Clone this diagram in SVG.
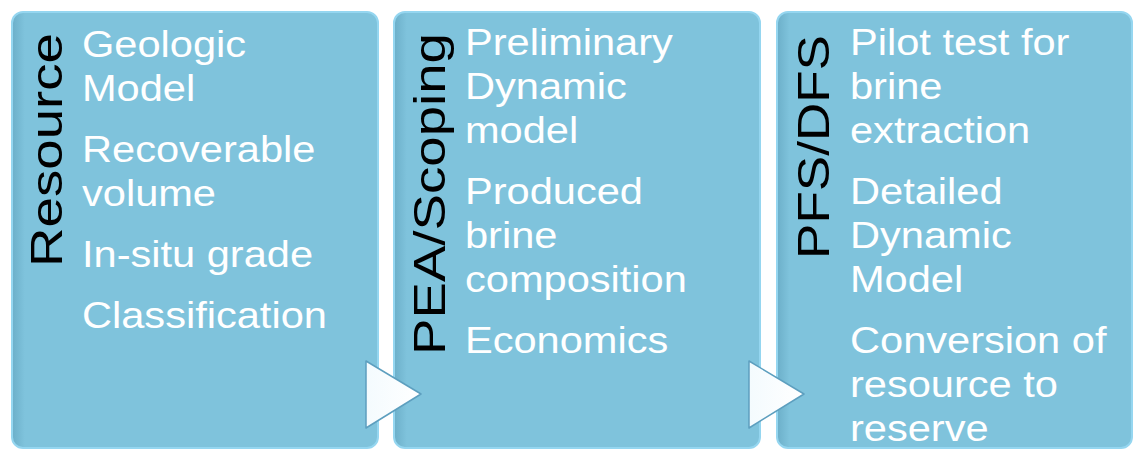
<svg xmlns="http://www.w3.org/2000/svg" width="1133" height="450" viewBox="0 0 1133 450">
<defs>
<linearGradient id="boxFill" x1="0" y1="0" x2="1" y2="0">
<stop offset="0" stop-color="#6cafc9"/>
<stop offset="0.035" stop-color="#7fc3dc"/>
<stop offset="1" stop-color="#7fc3dc"/>
</linearGradient>
<linearGradient id="triFill" x1="0" y1="0" x2="1" y2="0">
<stop offset="0" stop-color="#f4fbfe"/>
<stop offset="1" stop-color="#ffffff"/>
</linearGradient>
<style>
.box{fill:url(#boxFill);stroke:#95d6f0;stroke-width:2}
.title{font-family:"Liberation Sans",Arial,sans-serif;font-size:44px;fill:#000}
.item{font-family:"Liberation Sans",Arial,sans-serif;font-size:36px;fill:#ffffff}
.tri{fill:url(#triFill);stroke:#5d9fbf;stroke-width:1.5;stroke-linejoin:round}
</style>
</defs>
<rect width="1133" height="450" fill="#ffffff"/>
<g id="node-resource">
<rect class="box" x="12" y="12" width="366" height="436" rx="11"/>
<text class="title" transform="rotate(-90)" x="-267" y="62" textLength="234" lengthAdjust="spacingAndGlyphs">Resource</text>
<g transform="translate(82,0) scale(1.155,1)">
<text class="item" x="0" y="57">Geologic</text>
<text class="item" x="0" y="101">Model</text>
<text class="item" x="0" y="162">Recoverable</text>
<text class="item" x="0" y="206">volume</text>
<text class="item" x="0" y="267">In-situ grade</text>
<text class="item" x="0" y="328">Classification</text>
</g>
</g>
<g id="node-pea">
<rect class="box" x="394" y="12" width="366" height="436" rx="11"/>
<text class="title" transform="rotate(-90)" x="-355" y="445" textLength="322" lengthAdjust="spacingAndGlyphs">PEA/Scoping</text>
<g transform="translate(465,0) scale(1.155,1)">
<text class="item" x="0" y="55">Preliminary</text>
<text class="item" x="0" y="99">Dynamic</text>
<text class="item" x="0" y="143">model</text>
<text class="item" x="0" y="204">Produced</text>
<text class="item" x="0" y="248">brine</text>
<text class="item" x="0" y="292">composition</text>
<text class="item" x="0" y="353">Economics</text>
</g>
</g>
<g id="node-pfs">
<rect class="box" x="777" y="12" width="355" height="436" rx="11"/>
<text class="title" transform="rotate(-90)" x="-259" y="829" textLength="224" lengthAdjust="spacingAndGlyphs">PFS/DFS</text>
<g transform="translate(850,0) scale(1.155,1)">
<text class="item" x="0" y="55">Pilot test for</text>
<text class="item" x="0" y="99">brine</text>
<text class="item" x="0" y="143">extraction</text>
<text class="item" x="0" y="204">Detailed</text>
<text class="item" x="0" y="248">Dynamic</text>
<text class="item" x="0" y="292">Model</text>
<text class="item" x="0" y="353">Conversion of</text>
<text class="item" x="0" y="397">resource to</text>
<text class="item" x="0" y="441">reserve</text>
</g>
</g>
<g id="connectors">
<polygon class="tri" points="366,361 421,394 366,428"/>
<polygon class="tri" points="749,361 804,394 749,428"/>
</g>
</svg>
